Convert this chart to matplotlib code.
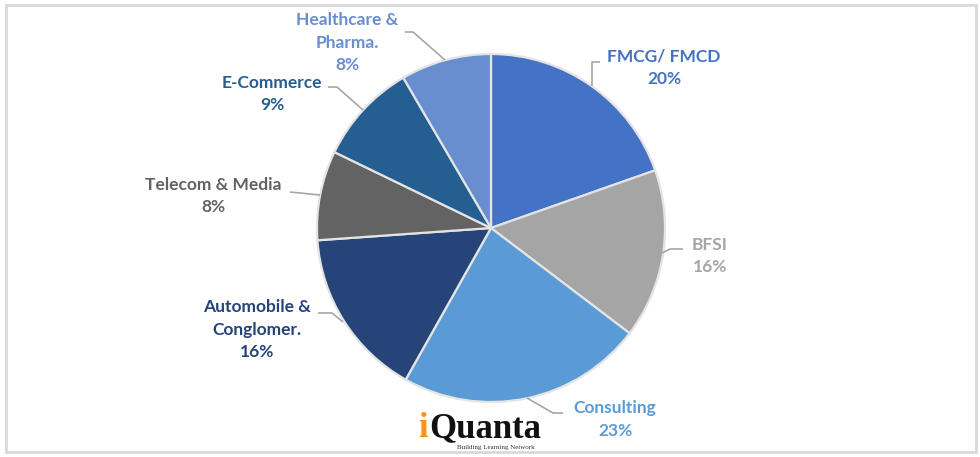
import matplotlib.pyplot as plt
from matplotlib.patches import Rectangle

# sector shares (%), clockwise from 12 o'clock
sectors = ['FMCG/ FMCD', 'BFSI', 'Consulting', 'Automobile &\nConglomer.',
           'Telecom & Media', 'E-Commerce', 'Healthcare &\nPharma.']
shares = [19.6, 15.7, 22.8, 15.7, 8.3, 9.4, 8.4]
colors = ['#4472C4', '#A5A5A5', '#5B9BD5', '#264478', '#636363', '#255E91', '#698ED0']

# label anchor (pixel coords, center of the first text line) and leader path
label_pos = [(664, 57), (710, 245), (615, 408), (257, 307), (213, 185), (272, 83), (347, 20)]
leaders = [
    [(600, 62), (592, 62), (592, 86)],
    [(683, 249), (670, 249), (662, 253)],
    [(563, 413), (553, 413), (527, 398)],
    [(318, 313), (332, 313), (343, 322)],
    [(290, 192), (320, 195)],
    [(328, 87), (337, 87), (363, 110)],
    [(405, 32), (413, 32), (445, 60)],
]

W, H = 980, 457
fig = plt.figure(figsize=(9.8, 4.57), dpi=100)
ax = fig.add_axes([0, 0, 1, 1])

# chart frame
ax.add_patch(Rectangle((6, H - 452), 970, 447, fill=False, edgecolor='#d9d9d9', linewidth=2))

ax.pie(shares, colors=colors, startangle=90, counterclock=False,
       center=(491, H - 228), radius=174, frame=True,
       wedgeprops=dict(edgecolor='#e4e4e4', linewidth=1.6))
ax.set_xlim(0, W)
ax.set_ylim(0, H)
ax.set_aspect('equal')
ax.axis('off')

for name, val, col, (x, y), path in zip(sectors, shares, colors, label_pos, leaders):
    xs = [p[0] for p in path]
    ys = [H - p[1] for p in path]
    ax.plot(xs, ys, color='#a6a6a6', linewidth=1.2, solid_capstyle='butt')
    txt = name + '\n' + str(round(val)) + '%'
    ax.text(x, H - y + 8, txt, ha='center', va='top', color=col, fontsize=12.5,
            fontweight='bold', family='Lato', linespacing=1.5)

# iQuanta logo
ax.text(418, H - 437, 'i', color='#F7941D', fontsize=25, fontweight='bold',
        family='Liberation Serif', ha='left', va='baseline')
ax.text(429, H - 437, 'Quanta', color='#111111', fontsize=25, fontweight='bold',
        family='Liberation Serif', ha='left', va='baseline')
ax.text(496, H - 447, 'Building Learning Network', color='#333333', fontsize=5,
        family='Liberation Serif', ha='center', va='center')

plt.savefig('out.png', dpi=100)
